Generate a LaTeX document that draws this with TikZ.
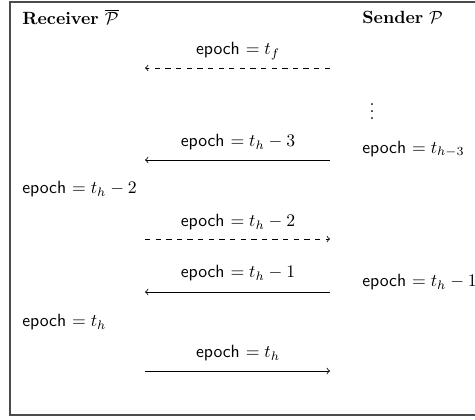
\documentclass[tikz,border=0pt]{standalone}
\usepackage{amsmath}
\begin{document}
\begin{tikzpicture}[x=0.565pt,y=-0.565pt,
  lbl/.style={inner sep=0pt,anchor=west},
  mlbl/.style={inner sep=0pt},
  msg/.style={->,line width=0.45pt},
  frm/.style={draw=black!70,line width=0.8pt}]
\useasboundingbox (0,0) rectangle (475,420);
\draw[frm] (500,2) -- (10,2) -- (10,415) -- (500,415);
\node[lbl] (recv) at (22,17) {\textbf{Receiver} $\overline{\mathcal{P}}$};
\node[lbl] (send) at (362,17) {\textbf{Sender} $\mathcal{P}$};
% message 1
\coordinate (a1s) at (330,68); \coordinate (a1e) at (145,68);
\draw[msg,dashed] (a1s) -- (a1e);
\node[mlbl] (l1) at (238,51) {\textsf{epoch} $= t_f$};
\node[mlbl] (dots) at (372,106) {$\vdots$};
% message 2
\coordinate (a2s) at (330,160); \coordinate (a2e) at (145,160);
\draw[msg] (a2s) -- (a2e);
\node[mlbl] (l2) at (238,142) {\textsf{epoch} $= t_h-3$};
\node[lbl] (s2) at (362,149) {\textsf{epoch} $= t_{h-3}$};
\node[lbl] (r2) at (22,189) {\textsf{epoch} $= t_h-2$};
% message 3
\coordinate (a3s) at (145,239); \coordinate (a3e) at (330,239);
\draw[msg,dashed] (a3s) -- (a3e);
\node[mlbl] (l3) at (238,222) {\textsf{epoch} $= t_h-2$};
% message 4
\coordinate (a4s) at (330,292); \coordinate (a4e) at (145,292);
\draw[msg] (a4s) -- (a4e);
\node[mlbl] (l4) at (238,273) {\textsf{epoch} $= t_h-1$};
\node[lbl] (s4) at (362,282) {\textsf{epoch} $= t_h-1$};
\node[lbl] (r4) at (22,322) {\textsf{epoch} $= t_h$};
% message 5
\coordinate (a5s) at (145,371); \coordinate (a5e) at (330,371);
\draw[msg] (a5s) -- (a5e);
\node[mlbl] (l5) at (238,353) {\textsf{epoch} $= t_h$};
\end{tikzpicture}
\end{document}
